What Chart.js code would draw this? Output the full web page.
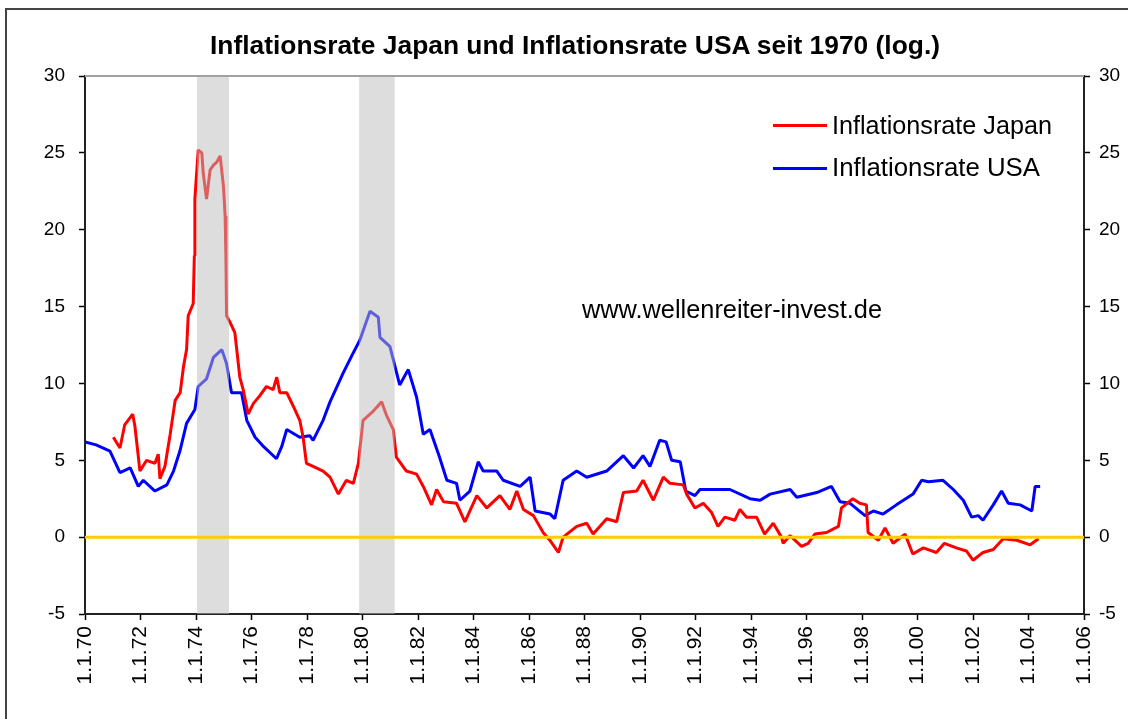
<!DOCTYPE html>
<html>
<head>
<meta charset="utf-8">
<script src="https://cdn.jsdelivr.net/npm/chart.js@4.4.1/dist/chart.umd.min.js"></script>
<style>
  html, body { margin:0; padding:0; background:#fff; width:1128px; height:719px; overflow:hidden; }
  #wrap { position:relative; width:1128px; height:719px; }
  canvas { position:absolute; left:0; top:0; }
  .txt { position:absolute; white-space:nowrap; line-height:1; color:#000; transform-origin:0 0; font-family:"Liberation Sans", Arial, sans-serif; }
  #title { font-family:"Liberation Sans Narrow", "Liberation Sans", Arial, sans-serif; font-weight:bold; font-size:25.5px; left:210px; top:33.4px; }
  .lg { font-size:25px; left:832px; }
  .lgline { position:absolute; left:773px; width:54px; height:3px; }
  #frame { position:absolute; left:5px; top:8px; width:1200px; height:800px; border:2px solid #444; pointer-events:none; }
</style>
</head>
<body>
<div id="wrap">
  <canvas id="c" width="1128" height="719"></canvas>
  <div id="frame"></div>
  <div id="title" class="txt" data-w="730">Inflationsrate Japan und Inflationsrate USA seit 1970 (log.)</div>
  <div class="lgline" style="top:123.5px;background:#ff0000"></div>
  <div class="lgline" style="top:166.5px;background:#0000ff"></div>
  <div class="txt lg" style="top:112.8px" data-w="220">Inflationsrate Japan</div>
  <div class="txt lg" style="top:154.8px" data-w="208">Inflationsrate USA</div>
  <div class="txt" style="font-size:25px;left:582px;top:296.8px" data-w="300">www.wellenreiter-invest.de</div>
</div>
<script>
// ---- data (decimal years / percent) ----
const jpYears = [1971.02,1971.26,1971.43,1971.72,1971.8,1971.98,1972.22,1972.52,1972.64,1972.7,1972.88,1973.07,1973.25,1973.43,1973.55,1973.66,1973.72,1973.9,1973.94,1973.96,1974.08,1974.21,1974.26,1974.38,1974.51,1974.63,1974.75,1974.87,1974.99,1975.05,1975.08,1975.1,1975.22,1975.4,1975.58,1975.7,1975.88,1976.07,1976.3,1976.54,1976.78,1976.91,1977.02,1977.27,1977.51,1977.74,1977.86,1977.98,1978.22,1978.58,1978.83,1979.13,1979.42,1979.67,1979.85,1980.02,1980.27,1980.39,1980.69,1980.87,1981.11,1981.22,1981.58,1981.95,1982.19,1982.49,1982.67,1982.92,1983.39,1983.69,1984.12,1984.48,1984.95,1985.31,1985.56,1985.8,1986.16,1986.51,1986.75,1987.06,1987.23,1987.72,1988.08,1988.31,1988.8,1989.16,1989.4,1989.88,1990.11,1990.48,1990.84,1991.08,1991.56,1991.68,1991.98,1992.28,1992.58,1992.81,1993.06,1993.42,1993.6,1993.84,1994.2,1994.49,1994.8,1995.1,1995.16,1995.41,1995.82,1996.06,1996.3,1996.72,1997.15,1997.26,1997.67,1997.92,1998.16,1998.22,1998.59,1998.83,1999.12,1999.55,1999.83,2000.21,2000.68,2000.97,2001.4,2001.76,2002.0,2002.36,2002.73,2003.09,2003.58,2004.06,2004.36];
const jpValues = [6.5,5.8,7.3,8.0,7.2,4.3,5.0,4.8,5.4,3.8,4.6,6.7,8.9,9.4,11.1,12.2,14.4,15.2,18.3,22.0,25.2,25.0,23.7,22.0,23.9,24.2,24.4,24.8,22.8,20.9,18.0,14.4,14.0,13.3,10.4,9.6,8.0,8.7,9.2,9.8,9.6,10.4,9.4,9.4,8.5,7.6,6.5,4.8,4.6,4.3,3.9,2.8,3.7,3.5,4.8,7.6,8.0,8.2,8.8,7.9,7.0,5.2,4.3,4.1,3.3,2.1,3.1,2.3,2.2,1.0,2.7,1.9,2.7,1.8,3.0,1.8,1.4,0.3,-0.2,-1.0,0.0,0.7,0.9,0.2,1.2,1.0,2.9,3.0,3.7,2.4,3.9,3.5,3.4,2.8,1.9,2.2,1.6,0.7,1.3,1.1,1.8,1.3,1.3,0.2,0.9,0.0,-0.4,0.1,-0.6,-0.4,0.2,0.3,0.7,1.9,2.5,2.2,2.1,0.3,-0.2,0.6,-0.4,0.2,-1.1,-0.7,-1.0,-0.4,-0.7,-0.9,-1.5,-1.0,-0.8,-0.1,-0.2,-0.5,-0.1];

const usYears = [1970.0,1970.4,1970.9,1971.26,1971.63,1971.92,1972.1,1972.52,1972.95,1973.19,1973.42,1973.66,1973.96,1974.08,1974.38,1974.63,1974.93,1975.1,1975.28,1975.64,1975.83,1976.13,1976.43,1976.9,1977.09,1977.27,1977.74,1978.1,1978.22,1978.58,1978.83,1979.31,1979.67,1979.9,1980.27,1980.57,1980.63,1980.99,1981.34,1981.65,1981.95,1982.19,1982.43,1982.74,1983.04,1983.39,1983.51,1983.87,1984.17,1984.35,1984.84,1985.07,1985.68,1986.04,1986.22,1986.76,1986.93,1987.23,1987.72,1988.08,1988.8,1989.4,1989.77,1990.11,1990.36,1990.71,1990.94,1991.14,1991.45,1991.65,1991.98,1992.16,1992.77,1993.24,1993.96,1994.33,1994.69,1995.41,1995.65,1996.37,1996.9,1997.21,1997.57,1998.11,1998.41,1998.76,1999.24,1999.84,2000.15,2000.39,2000.92,2001.29,2001.65,2001.95,2002.19,2002.36,2002.73,2003.03,2003.27,2003.7,2004.12,2004.24,2004.42];
const usValues = [6.2,6.0,5.6,4.2,4.5,3.3,3.7,3.0,3.4,4.3,5.6,7.4,8.3,9.8,10.3,11.7,12.2,11.3,9.4,9.4,7.6,6.5,5.9,5.1,5.9,7.0,6.5,6.6,6.3,7.6,8.8,10.7,12.0,12.8,14.7,14.3,13.0,12.4,9.9,10.9,9.1,6.7,7.0,5.4,3.7,3.5,2.4,3.0,4.9,4.3,4.3,3.7,3.3,3.9,1.7,1.5,1.2,3.7,4.3,3.9,4.3,5.3,4.5,5.3,4.6,6.3,6.2,5.0,4.9,3.0,2.7,3.1,3.1,3.1,2.5,2.4,2.8,3.1,2.6,2.9,3.3,2.3,2.2,1.4,1.7,1.5,2.1,2.8,3.7,3.6,3.7,3.1,2.4,1.3,1.4,1.1,2.1,3.0,2.2,2.1,1.7,3.3,3.3];

const zeroYears = [1970, 2006];
const zeroValues = [0, 0];

const bandStart = [1974.04, 1979.88];
const bandEnd   = [1975.19, 1981.16];

const xTickLabels = ['1.1.70','1.1.72','1.1.74','1.1.76','1.1.78','1.1.80','1.1.82','1.1.84','1.1.86','1.1.88','1.1.90','1.1.92','1.1.94','1.1.96','1.1.98','1.1.00','1.1.02','1.1.04','1.1.06'];
const seriesNames = ['Inflationsrate Japan', 'Inflationsrate USA'];

// ---- build ----
const pts = (xs, ys) => xs.map((x, i) => ({ x: x, y: ys[i] }));
const tickFont = { family: '"Liberation Sans", Arial, sans-serif', size: 19 };
const xTickFont = { family: '"Liberation Sans", Arial, sans-serif', size: 21 };

const bandsPlugin = {
  id: 'bands',
  beforeDatasetDraw(chart, args) {
    if (args.index !== 2) return;
    const ctx = chart.ctx, xs = chart.scales.x, a = chart.chartArea;
    ctx.save();
    ctx.fillStyle = 'rgba(188,188,188,0.51)';
    bandStart.forEach((s, i) => {
      const x0 = xs.getPixelForValue(s), x1 = xs.getPixelForValue(bandEnd[i]);
      ctx.fillRect(x0, a.top, x1 - x0, a.bottom - a.top);
    });
    ctx.restore();
  },
  afterDraw(chart) {
    const ctx = chart.ctx, a = chart.chartArea;
    ctx.save();
    ctx.strokeStyle = '#a0a0a0';
    ctx.lineWidth = 2;
    ctx.beginPath();
    ctx.moveTo(a.left, a.top);
    ctx.lineTo(a.right, a.top);
    ctx.stroke();
    ctx.restore();
  }
};

const yCommon = {
  type: 'linear', min: -5, max: 30,
  grid: { drawOnChartArea: false, drawTicks: true, tickLength: 6, tickColor: '#000', tickWidth: 1.5 },
  border: { color: '#222', width: 2 }
};

new Chart(document.getElementById('c'), {
  type: 'line',
  data: {
    datasets: [
      { label: seriesNames[0], data: pts(jpYears, jpValues), borderColor: '#ff0000', borderWidth: 3, pointRadius: 0, tension: 0, borderJoinStyle: 'bevel', yAxisID: 'y' },
      { label: seriesNames[1], data: pts(usYears, usValues), borderColor: '#0000ff', borderWidth: 3, pointRadius: 0, tension: 0, borderJoinStyle: 'bevel', yAxisID: 'y' },
      { label: 'Null', data: pts(zeroYears, zeroValues), borderColor: '#ffcc00', borderWidth: 3, pointRadius: 0, yAxisID: 'y', order: -1 }
    ]
  },
  options: {
    responsive: false,
    animation: false,
    devicePixelRatio: 1,
    layout: { padding: { top: 76, left: 0, right: 0, bottom: 0 } },
    plugins: { legend: { display: false }, title: { display: false }, tooltip: { enabled: false } },
    scales: {
      x: {
        type: 'linear', min: 1970, max: 2006,
        ticks: {
          stepSize: 2, autoSkip: false, maxRotation: 90, minRotation: 90, padding: 6,
          color: '#000', font: xTickFont,
          callback: (v) => xTickLabels[Math.round((v - 1970) / 2)]
        },
        grid: { drawOnChartArea: false, drawTicks: true, tickLength: 6, tickColor: '#000', tickWidth: 1.5 },
        border: { color: '#222', width: 2 },
        afterFit: (s) => { s.height = 105; }
      },
      y: Object.assign({}, yCommon, {
        position: 'left',
        ticks: { stepSize: 5, padding: 14, color: '#000', font: tickFont },
        afterFit: (s) => { s.width = 85; }
      }),
      y2: Object.assign({}, yCommon, {
        position: 'right',
        ticks: { stepSize: 5, padding: 9, color: '#000', font: tickFont },
        afterFit: (s) => { s.width = 44; }
      })
    }
  },
  plugins: [bandsPlugin]
});

// fit text widths to the reference
document.querySelectorAll('.txt[data-w]').forEach(el => {
  const w = el.getBoundingClientRect().width;
  const target = parseFloat(el.dataset.w);
  if (w > 0) el.style.transform = 'scaleX(' + (target / w) + ')';
});
</script>
</body>
</html>
